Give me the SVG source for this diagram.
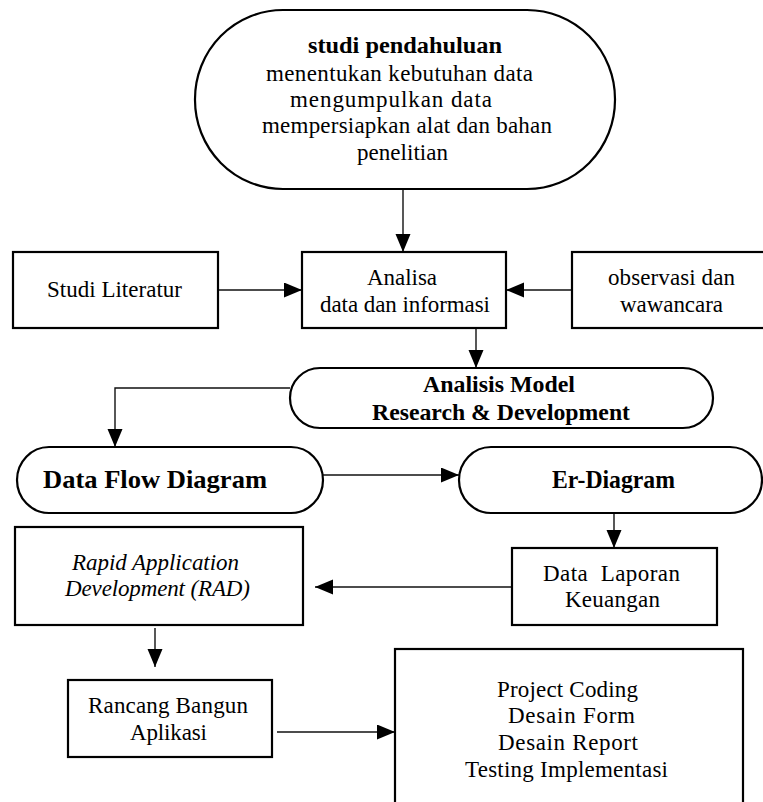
<svg xmlns="http://www.w3.org/2000/svg" width="763" height="802" viewBox="0 0 763 802">
<style>
.shape{fill:#fff;stroke:#000;stroke-width:2.2}
.t{font-family:"Liberation Serif","Times New Roman",serif;font-size:23px;fill:#000}
.b{font-weight:bold}
.i{font-style:italic}
.c{fill:none;stroke:#111;stroke-width:1.4}
</style>
<defs>
<marker id="ah" markerUnits="userSpaceOnUse" markerWidth="19" markerHeight="16" refX="18" refY="7.5" orient="auto">
<path d="M0,0 L18,7.5 L0,15 z" fill="#000"/>
</marker>
</defs>
<rect width="763" height="802" fill="#fff"/>

<g id="connectors">
<line class="c" x1="403" y1="189" x2="403" y2="252" marker-end="url(#ah)"/>
<line class="c" x1="218" y1="290" x2="302" y2="290" marker-end="url(#ah)"/>
<line class="c" x1="572" y1="290" x2="506" y2="290" marker-end="url(#ah)"/>
<line class="c" x1="476" y1="328" x2="476" y2="368" marker-end="url(#ah)"/>
<polyline class="c" points="290,388 115,388 115,447" marker-end="url(#ah)"/>
<line class="c" x1="323" y1="475" x2="459" y2="475" marker-end="url(#ah)"/>
<line class="c" x1="614" y1="513" x2="614" y2="548" marker-end="url(#ah)"/>
<line class="c" x1="512" y1="587" x2="315" y2="587" marker-end="url(#ah)"/>
<line class="c" x1="155" y1="628" x2="155" y2="667" marker-end="url(#ah)"/>
<line class="c" x1="277" y1="732" x2="395" y2="732" marker-end="url(#ah)"/>
</g>

<g id="studi-pendahuluan">
<rect class="shape" x="195" y="10" width="420" height="179" rx="88" ry="89"/>
<text class="t b" x="308" y="53" style="font-size:24px" textLength="194" lengthAdjust="spacingAndGlyphs">studi pendahuluan</text>
<text class="t" x="266" y="81" textLength="267" lengthAdjust="spacing">menentukan kebutuhan data</text>
<text class="t" x="290" y="107" textLength="202" lengthAdjust="spacing">mengumpulkan data</text>
<text class="t" x="262" y="133" textLength="290" lengthAdjust="spacing">mempersiapkan alat dan bahan</text>
<text class="t" x="357" y="160" textLength="91" lengthAdjust="spacing">penelitian</text>
</g>

<g id="studi-literatur">
<rect class="shape" x="13" y="252" width="205" height="76"/>
<text class="t" x="47" y="297" textLength="135" lengthAdjust="spacing">Studi Literatur</text>
</g>

<g id="analisa">
<rect class="shape" x="302" y="252" width="204" height="76"/>
<text class="t" x="367" y="285" textLength="70" lengthAdjust="spacing">Analisa</text>
<text class="t" x="320" y="312" textLength="170" lengthAdjust="spacing">data dan informasi</text>
</g>

<g id="observasi">
<rect class="shape" x="572" y="252" width="200" height="76"/>
<text class="t" x="608" y="285" textLength="127" lengthAdjust="spacing">observasi dan</text>
<text class="t" x="620" y="312" textLength="103" lengthAdjust="spacing">wawancara</text>
</g>

<g id="analisis-model">
<rect class="shape" x="290" y="368" width="423" height="60" rx="30" ry="30"/>
<text class="t b" x="423" y="392" textLength="152" lengthAdjust="spacingAndGlyphs">Analisis Model</text>
<text class="t b" x="372" y="420" textLength="258" lengthAdjust="spacingAndGlyphs">Research &amp; Development</text>
</g>

<g id="dfd">
<rect class="shape" x="17" y="447" width="306" height="66" rx="32" ry="33"/>
<text class="t b" x="43" y="488" style="font-size:25px" textLength="224" lengthAdjust="spacingAndGlyphs">Data Flow Diagram</text>
</g>

<g id="er-diagram">
<rect class="shape" x="459" y="447" width="303" height="66" rx="32" ry="33"/>
<text class="t b" x="552" y="488" style="font-size:25px" textLength="123" lengthAdjust="spacingAndGlyphs">Er-Diagram</text>
</g>

<g id="data-laporan">
<rect class="shape" x="512" y="548" width="205" height="77"/>
<text class="t" x="543" y="581" textLength="137" lengthAdjust="spacing" xml:space="preserve">Data  Laporan</text>
<text class="t" x="565" y="607" textLength="95" lengthAdjust="spacing">Keuangan</text>
</g>

<g id="rad">
<rect class="shape" x="15" y="527" width="288" height="98"/>
<text class="t i" x="72" y="570" textLength="167" lengthAdjust="spacing">Rapid Application</text>
<text class="t i" x="65" y="596" textLength="185" lengthAdjust="spacing">Development (RAD)</text>
</g>

<g id="rancang">
<rect class="shape" x="68" y="680" width="204" height="77"/>
<text class="t" x="88" y="713" textLength="160" lengthAdjust="spacing">Rancang Bangun</text>
<text class="t" x="130" y="740" textLength="77" lengthAdjust="spacing">Aplikasi</text>
</g>

<g id="implementasi">
<rect class="shape" x="395" y="649" width="348" height="170"/>
<text class="t" x="497" y="697" textLength="141" lengthAdjust="spacing">Project Coding</text>
<text class="t" x="508" y="723" textLength="127" lengthAdjust="spacing">Desain Form</text>
<text class="t" x="498" y="750" textLength="140" lengthAdjust="spacing">Desain Report</text>
<text class="t" x="465" y="777" textLength="203" lengthAdjust="spacing">Testing Implementasi</text>
</g>
</svg>
